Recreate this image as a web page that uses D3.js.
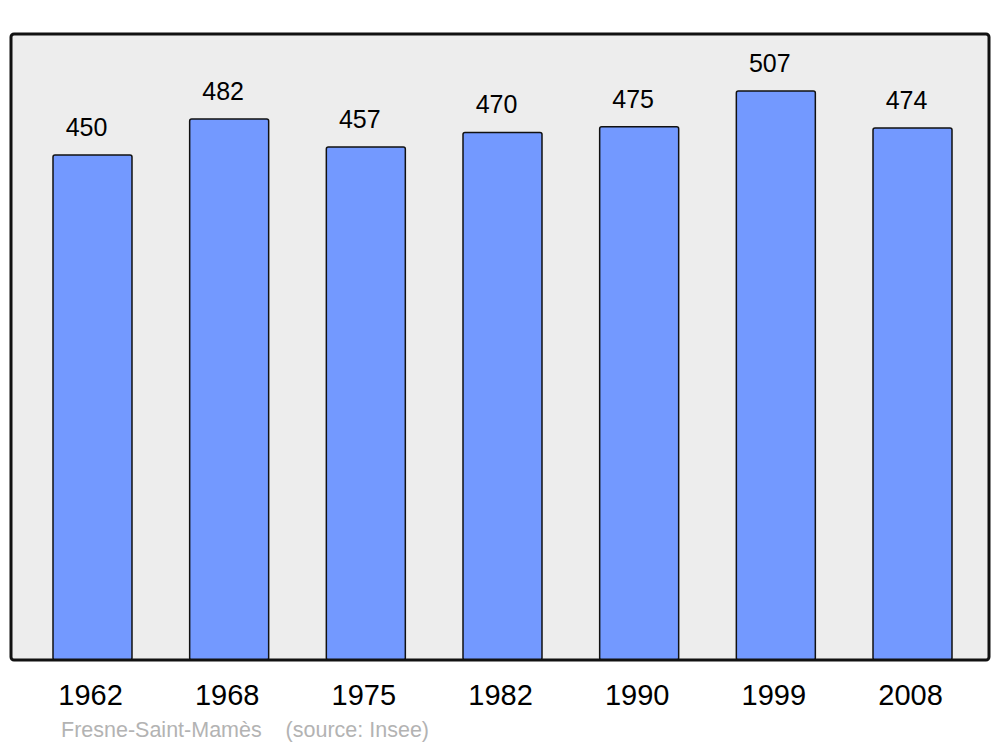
<!DOCTYPE html>
<html>
<head>
<meta charset="utf-8">
<script src="https://cdn.jsdelivr.net/npm/d3@7"></script>
<style>
  body { margin: 0; background: #fff; }
  text { font-family: "Liberation Sans", Arial, sans-serif; }
</style>
</head>
<body>
<div id="chart-area"></div>
<script>
var years = ["1962", "1968", "1975", "1982", "1990", "1999", "2008"];
var population = [450, 482, 457, 470, 475, 507, 474];
var footer = "Fresne-Saint-Mamès    (source: Insee)";

var width = 1000;
var height = 747;
var frame = { left: 11, right: 989, top: 34, bottom: 660 };

var svg = d3.select("#chart-area").append("svg")
  .attr("width", width)
  .attr("height", height);

// background frame
svg.append("rect")
  .attr("x", frame.left)
  .attr("y", frame.top)
  .attr("width", frame.right - frame.left)
  .attr("height", frame.bottom - frame.top)
  .attr("rx", 3)
  .attr("fill", "#ededed");

var x = d3.scaleBand()
  .domain(years)
  .range([53, 952])
  .paddingInner(0.422)
  .paddingOuter(0);

var y = d3.scaleLinear()
  .domain([0, d3.max(population) * 1.1])
  .range([frame.bottom, frame.top]);

var data = years.map(function(d, i) {
  return { year: d, value: population[i] };
});

// bars
svg.selectAll("rect.bar")
  .data(data)
  .enter()
  .append("rect")
  .attr("class", "bar")
  .attr("x", function(d) { return x(d.year); })
  .attr("y", function(d) { return y(d.value); })
  .attr("width", x.bandwidth())
  .attr("height", function(d) { return frame.bottom - y(d.value); })
  .attr("rx", 2)
  .attr("fill", "#7399ff")
  .attr("stroke", "#111")
  .attr("stroke-width", 1.5);

// value labels
svg.selectAll("text.value")
  .data(data)
  .enter()
  .append("text")
  .attr("class", "value")
  .attr("x", function(d) { return x(d.year) + x.bandwidth() / 2 - 6; })
  .attr("y", function(d) { return y(d.value) - 19; })
  .attr("text-anchor", "middle")
  .attr("font-size", "25px")
  .attr("fill", "#000")
  .text(function(d) { return d.value; });

// frame border on top of bars
svg.append("rect")
  .attr("x", frame.left)
  .attr("y", frame.top)
  .attr("width", frame.right - frame.left)
  .attr("height", frame.bottom - frame.top)
  .attr("rx", 3)
  .attr("fill", "none")
  .attr("stroke", "#111")
  .attr("stroke-width", 3);

// year axis
var xAxis = d3.axisBottom(x).tickSize(0).tickPadding(0);
var axisG = svg.append("g")
  .attr("transform", "translate(-2," + (frame.bottom + 16) + ")")
  .call(xAxis);
axisG.select(".domain").remove();
axisG.selectAll("text")
  .attr("font-size", "29px")
  .attr("fill", "#000")
  .attr("dy", "0.99em")
  .style("font-family", "\"Liberation Sans\", Arial, sans-serif");

// footer
svg.append("text")
  .attr("x", 61)
  .attr("y", 737)
  .attr("font-size", "21.5px")
  .attr("fill", "#b3b3b3")
  .attr("xml:space", "preserve")
  .style("white-space", "pre")
  .text(footer);
</script>
</body>
</html>
